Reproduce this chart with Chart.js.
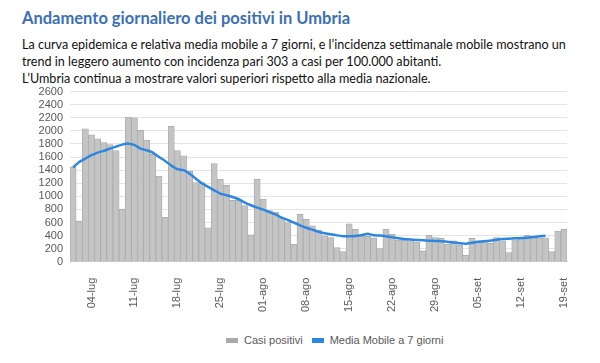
<!DOCTYPE html>
<html lang="it">
<head>
<meta charset="UTF-8">
<title>Andamento giornaliero dei positivi in Umbria</title>
<script src="https://cdn.jsdelivr.net/npm/chart.js"></script>
<style>
    body {
        margin: 0;
        width: 600px;
        height: 363px;
        background: #fff;
        position: relative;
        overflow: hidden;
        font-family: Lato, sans-serif;
    }
    h1 {
        position: absolute;
        left: 22px;
        top: 8px;
        margin: 0;
        font-size: 16.5px;
        font-weight: bold;
        color: #3b6fb6;
    }
    .txt {
        position: absolute;
        left: 22px;
        top: 36px;
        margin: 0;
        font-size: 12.6px;
        line-height: 17px;
        color: #111;
    }
    #chartBox {
        position: absolute;
        left: 0;
        top: 78px;
        width: 600px;
        height: 242px;
    }
    .legend {
        position: absolute;
        left: 226px;
        top: 334px;
        font-family: "Liberation Sans", Arial, sans-serif;
        font-size: 11px;
        color: #595959;
        display: flex;
        align-items: center;
    }
    .sw {
        display: inline-block;
        width: 12px;
        height: 5px;
        margin-right: 6px;
    }
</style>
</head>
<body>
    <h1>Andamento giornaliero dei positivi in Umbria</h1>
    <p class="txt">La curva epidemica e relativa media mobile a 7 giorni, e l’incidenza settimanale mobile mostrano un<br>
    trend in leggero aumento con incidenza pari 303 a casi per 100.000 abitanti.<br>
    L’Umbria continua a mostrare valori superiori rispetto alla media nazionale.</p>

    <div id="chartBox"><canvas id="chart"></canvas></div>

    <div class="legend">
        <span class="sw" style="background:#a9a9a9"></span><span>Casi positivi</span>
        <span class="sw" style="background:#2d86e0; margin-left:9px"></span><span>Media Mobile a 7 giorni</span>
    </div>

<script>
// giorni dal 01-lug al 19-set
const categories = [
    '01-lug','02-lug','03-lug','04-lug','05-lug','06-lug','07-lug','08-lug','09-lug','10-lug',
    '11-lug','12-lug','13-lug','14-lug','15-lug','16-lug','17-lug','18-lug','19-lug','20-lug',
    '21-lug','22-lug','23-lug','24-lug','25-lug','26-lug','27-lug','28-lug','29-lug','30-lug',
    '31-lug','01-ago','02-ago','03-ago','04-ago','05-ago','06-ago','07-ago','08-ago','09-ago',
    '10-ago','11-ago','12-ago','13-ago','14-ago','15-ago','16-ago','17-ago','18-ago','19-ago',
    '20-ago','21-ago','22-ago','23-ago','24-ago','25-ago','26-ago','27-ago','28-ago','29-ago',
    '30-ago','31-ago','01-set','02-set','03-set','04-set','05-set','06-set','07-set','08-set',
    '09-set','10-set','11-set','12-set','13-set','14-set','15-set','16-set','17-set','18-set',
    '19-set'
];

// etichette mostrate sull'asse x
const tickLabels = ['04-lug','11-lug','18-lug','25-lug','01-ago','08-ago','15-ago','22-ago','29-ago','05-set','12-set','19-set'];

const casiPositivi = [
    1450, 620, 2030, 1940, 1880, 1820, 1790, 1700, 800, 2210,
    2200, 2010, 1860, 1640, 1310, 680, 2070, 1700, 1620, 1380,
    1210, 1210, 520, 1500, 1260, 1170, 940, 940, 860, 410,
    1260, 955, 780, 760, 670, 600, 270, 725, 650, 550,
    480, 395, 370, 215, 155, 580, 495, 395, 390, 365,
    200, 495, 420, 330, 330, 320, 300, 165, 405, 370,
    360, 270, 320, 255, 100, 360, 320, 330, 280, 370,
    320, 140, 335, 365, 405, 370, 365, 365, 155, 470,
    495
];

// media mobile (centrata), si ferma al 17-set
const mediaMobile = [
    1440, 1525, 1576, 1628, 1668, 1694, 1729, 1760, 1790, 1805,
    1785, 1729, 1704, 1668, 1602, 1540, 1470, 1415, 1400, 1345,
    1270, 1200, 1143, 1092, 1041, 1016, 990, 955, 903, 863,
    826, 796, 760, 725, 673, 638, 597, 557, 520, 490,
    459, 434, 419, 403, 390, 390, 395, 405, 428, 405,
    400, 388, 373, 360, 348, 340, 334, 328, 322, 318,
    313, 306, 294, 284, 276, 290, 305, 312, 322, 337,
    347, 352, 358, 363, 367, 378, 388, 397
];

const axisFont = { family: '"Liberation Sans", Arial, sans-serif', size: 11 };

new Chart(document.getElementById('chart'), {
    data: {
        labels: categories,
        datasets: [
            {
                type: 'line',
                label: 'Media Mobile a 7 giorni',
                data: mediaMobile,
                borderColor: '#2d86e0',
                borderWidth: 2.5,
                pointRadius: 0,
                tension: 0.15,
                order: 0
            },
            {
                type: 'bar',
                label: 'Casi positivi',
                data: casiPositivi,
                backgroundColor: '#c4c4c4',
                borderColor: '#a9a9a9',
                borderWidth: 0.8,
                categoryPercentage: 1,
                barPercentage: 1,
                order: 1
            }
        ]
    },
    options: {
        responsive: true,
        maintainAspectRatio: false,
        animation: false,
        layout: { padding: { left: 0, right: 33, top: 0, bottom: 0 } },
        plugins: {
            legend: { display: false },
            tooltip: { enabled: false }
        },
        scales: {
            x: {
                grid: { display: false },
                border: { display: true, color: '#c8c8c8' },
                ticks: {
                    autoSkip: false,
                    minRotation: 90,
                    maxRotation: 90,
                    padding: 8,
                    color: '#595959',
                    font: axisFont,
                    callback: function (v, i) {
                        return tickLabels.includes(categories[i]) ? categories[i] : '';
                    }
                }
            },
            y: {
                min: 0,
                max: 2600,
                afterFit: function (scale) { scale.width = 70; },
                grid: { color: '#e4e4e4', drawTicks: false },
                border: { display: false },
                ticks: {
                    stepSize: 200,
                    autoSkip: false,
                    padding: 7,
                    color: '#595959',
                    font: axisFont,
                    callback: function (v) { return String(v); }
                }
            }
        }
    }
});
</script>
</body>
</html>
